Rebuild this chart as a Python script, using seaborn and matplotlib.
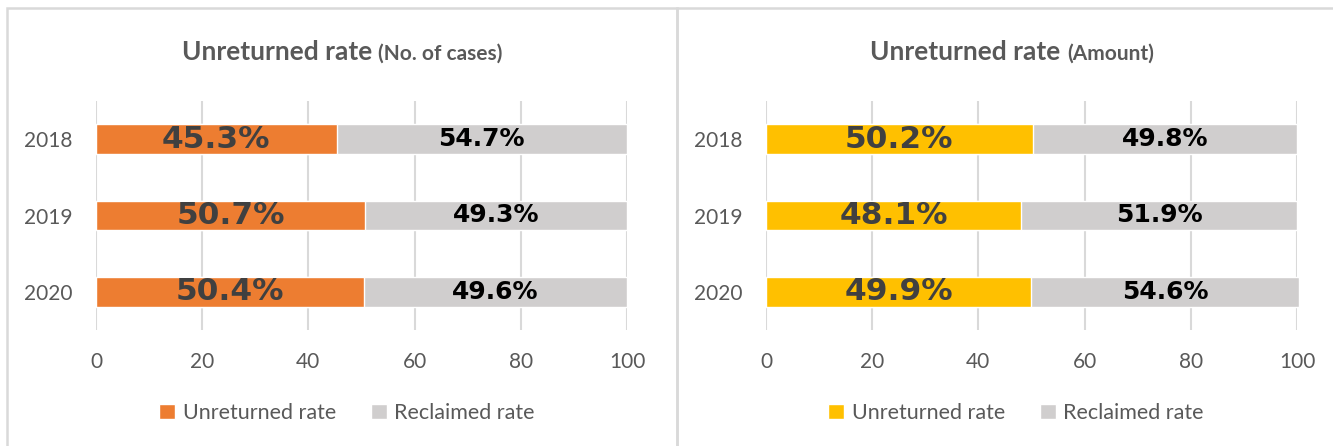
import pandas as pd
import matplotlib
matplotlib.use("Agg")
import matplotlib.pyplot as plt
from matplotlib.patches import Patch, Rectangle
import seaborn as sns

# Data
years = ["2018", "2019", "2020"]
cases_unreturned = [45.3, 50.7, 50.4]
cases_reclaimed = [54.7, 49.3, 49.6]
amount_unreturned = [50.2, 48.1, 49.9]
amount_reclaimed = [49.8, 51.9, 50.5]
# the original chart prints 54.6% on the last grey segment
amount_reclaimed_labels = ["49.8%", "51.9%", "54.6%"]
ticks = [0, 20, 40, 60, 80, 100]

orange = "#ED7D31"
yellow = "#FFC000"
grey = "#D0CECE"
txt = "#595959"

sns.set_theme(style="white")
plt.rcParams["font.family"] = ["Lato", "DejaVu Sans"]

W, H = 1333, 446
fig = plt.figure(figsize=(W / 100, H / 100), dpi=100)

# panel frames
for x0, x1 in [(7, 677), (677, 1340)]:
    fig.patches.append(Rectangle((x0 / W, -0.1), (x1 - x0) / W, 1.1 - 8 / H,
                                 transform=fig.transFigure, fill=False,
                                 edgecolor="#D9D9D9", lw=1.8))

titles = []


def draw_panel(left, right, unret, recl, recl_labels, color, title_a, title_b, title_cx, leg_cx):
    ax = fig.add_axes([left / W, 116 / H, (right - left) / W, 229 / H])
    df = pd.DataFrame({"year": years, "unret": unret, "recl": recl})
    df["total"] = df["unret"] + df["recl"]
    sns.barplot(data=df, y="year", x="total", color=grey, orient="h",
                width=0.39, saturation=1, ax=ax, zorder=2)
    sns.barplot(data=df, y="year", x="unret", color=color, orient="h",
                width=0.39, saturation=1, ax=ax, zorder=3)
    for p in ax.patches:
        p.set_clip_on(False)
    ax.set_xlim(0, 100)
    ax.set_ylim(2.5, -0.5)
    ax.set_xticks(ticks)
    ax.set_xticklabels([str(t) for t in ticks])
    ax.grid(axis="x", color="#D9D9D9", lw=1.5, zorder=0)
    ax.set_axisbelow(True)
    for s in ax.spines.values():
        s.set_visible(False)
    ax.set_xlabel("")
    ax.set_ylabel("")
    ax.tick_params(axis="x", length=0, pad=16, labelsize=15, labelcolor=txt)
    ax.tick_params(axis="y", length=0, pad=17, labelsize=15, labelcolor=txt)

    for i in range(len(years)):
        ax.text(unret[i] / 2, i, f"{unret[i]:.1f}%", ha="center", va="center",
                fontsize=22.5, fontweight="bold", color="#404040",
                family="DejaVu Sans", zorder=5)
        ax.text(unret[i] + recl[i] / 2, i, recl_labels[i], ha="center", va="center",
                fontsize=18, fontweight="bold", color="black",
                family="DejaVu Sans", zorder=5)

    # two-size title
    t1 = fig.text(title_cx / W, 1 - 60 / H, title_a, ha="left", va="baseline",
                  fontsize=19, fontweight="bold", color=txt)
    t2 = fig.text(title_cx / W, 1 - 60 / H, title_b, ha="left", va="baseline",
                  fontsize=15, fontweight="bold", color=txt)
    titles.append((t1, t2, title_cx))

    handles = [Patch(facecolor=color, label="Unreturned rate"),
               Patch(facecolor=grey, label="Reclaimed rate")]
    ax.legend(handles=handles, loc="center", ncol=2, frameon=False,
              bbox_to_anchor=(leg_cx / W, 1 - 413 / H), bbox_transform=fig.transFigure,
              fontsize=15.5, labelcolor=txt, handlelength=0.75, handleheight=0.75,
              handletextpad=0.35, columnspacing=1.6)
    return ax


draw_panel(96, 627, cases_unreturned, cases_reclaimed,
           [f"{v:.1f}%" for v in cases_reclaimed], orange,
           "Unreturned rate ", "(No. of cases)", 342, 347)
draw_panel(766, 1297, amount_unreturned, amount_reclaimed,
           amount_reclaimed_labels, yellow,
           "Unreturned rate ", "(Amount)", 1012, 1016)

# centre each two-part title on its panel
fig.canvas.draw()
r = fig.canvas.get_renderer()
for t1, t2, cx in titles:
    w1 = t1.get_window_extent(r).width
    w2 = t2.get_window_extent(r).width
    x0 = cx - (w1 + w2) / 2
    t1.set_x(x0 / W)
    t2.set_x((x0 + w1) / W)

fig.savefig("out.png", dpi=100, facecolor="white")
